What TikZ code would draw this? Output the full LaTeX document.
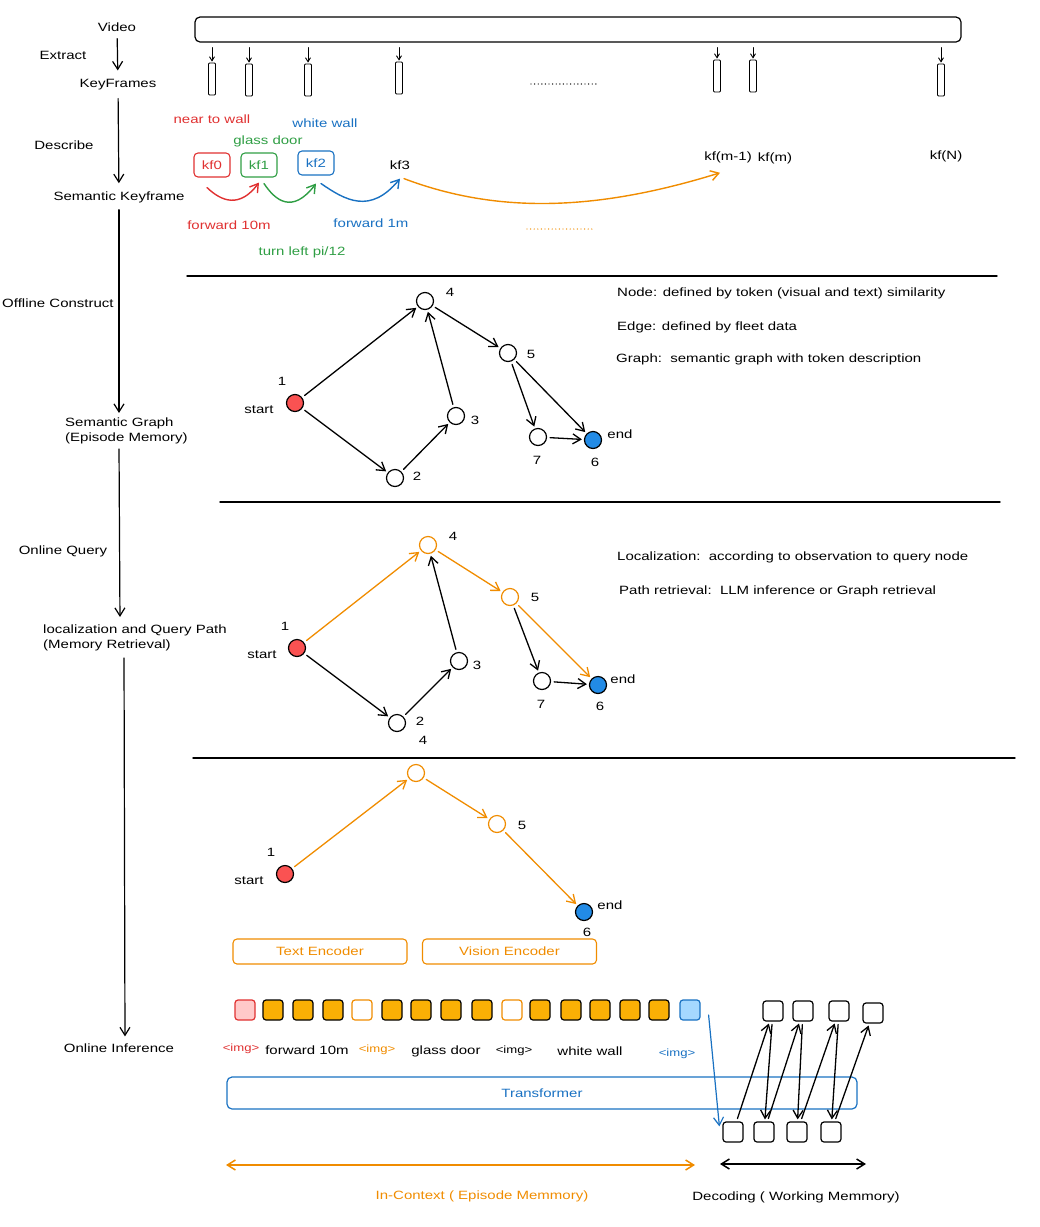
\documentclass[tikz,border=0pt]{standalone}
\usepackage{fontspec}
\setmainfont[FakeStretch=1.25]{Liberation Sans}
\usetikzlibrary{arrows.meta}
\definecolor{exred}{HTML}{E03131}
\definecolor{exgreen}{HTML}{2F9E44}
\definecolor{exblue}{HTML}{1971C2}
\definecolor{exorange}{HTML}{F08C00}
\definecolor{tokfill}{HTML}{FAB005}
\definecolor{tokpink}{HTML}{FFC9C9}
\definecolor{tokblue}{HTML}{A5D8FF}
\definecolor{nodered}{HTML}{FA5252}
\definecolor{nodeblue}{HTML}{228BE6}
\tikzset{
  lbl/.style={font=\fontsize{12}{14.5}\selectfont, inner sep=1pt},
  imglbl/.style={font=\fontsize{10.5}{12}\selectfont, inner sep=1pt},
  kfbar/.style={draw, rounded corners=1pt, minimum width=7pt, minimum height=32pt, inner sep=0pt, line width=0.9pt},
  kfbox/.style={draw, rounded corners=4pt, minimum width=36pt, minimum height=24pt, inner sep=0pt, line width=1.1pt},
  gnode/.style={circle, draw, line width=1.2pt, minimum size=17pt, inner sep=0pt, fill=white},
  tok/.style={draw, rounded corners=3pt, minimum size=20pt, inner sep=0pt, line width=1.2pt},
  tokimg/.style={draw=exred, fill=tokpink},
  tokvis/.style={draw=exorange},
  toktxt/.style={fill=tokfill},
  toklast/.style={draw=exblue, fill=tokblue},
  encbox/.style={draw=exorange, rounded corners=4pt, minimum width=174pt, minimum height=25pt, line width=1.1pt, text=exorange},
  gedge/.style={->, line width=1.3pt, shorten >=2pt, shorten <=3pt},
  flow/.style={->, line width=1.2pt},
  dots/.style={line width=1.4pt, dash pattern=on 0pt off 3.6pt, line cap=round},
}
\begin{document}
\begin{tikzpicture}[x=1pt, y=-1pt, line join=round, line cap=round, >={Straight Barb[length=8pt,width=10pt]}]
\useasboundingbox (0,0) rectangle (1040,1227);
% left column
\node[lbl] (video) at (117,27) {Video};
\node[lbl] at (63,55) {Extract};
\node[lbl] (kfs) at (118,85) {KeyFrames};
\node[lbl] at (64,145) {Describe};
\node[lbl] (semkf) at (119,197) {Semantic Keyframe};
\node[lbl, anchor=west] at (1,303) {Offline Construct};
\node[lbl, align=left, anchor=west] (semg) at (64,431) {Semantic Graph\\(Episode Memory)};
\node[lbl] at (63,551) {Online Query};
\node[lbl, align=left, anchor=west] (query) at (42,638) {localization and Query Path\\(Memory Retrieval)};
\node[lbl] (infer) at (119,1048) {Online Inference};
\draw[flow, shorten <=6pt, shorten >=8pt] (video) -- (kfs);
\draw[flow, shorten <=7pt, shorten >=7pt] (kfs) -- (semkf);
\draw[flow, shorten <=6pt, shorten >=4pt] (semkf) -- (semg.north -| semkf);
\draw[flow, shorten <=4pt, shorten >=7pt] (semg.south -| 119,0) -- (query.north -| 120,0);
\draw[flow, shorten <=6pt, shorten >=6pt] (query.south -| 124,0) -- (infer.north -| 125,0);

% video and keyframes
\node[draw, rounded corners=5pt, line width=1.2pt, minimum width=766pt, minimum height=25pt] (vbar) at (578,29.5) {};
\foreach \x/\y/\n in {212/79/1, 249/80/2, 308/80/3, 399/78/4, 717/76/5, 753/76/6, 941/80/7} {
  \node[kfbar] (f\n) at (\x,\y) {};
  \draw[->, >={Straight Barb[length=4pt,width=5pt]}, line width=0.9pt, shorten <=5pt, shorten >=1pt] (vbar.south -| f\n.north) -- (f\n.north);
}
\draw[dots] (531,84) -- (597,84);

% semantic keyframes
\node[lbl, text=exred] at (212,119) {near to wall};
\node[lbl, text=exblue] at (325,123) {white wall};
\node[lbl, text=exgreen] at (268,141) {glass door};
\node[kfbox, draw=exred, text=exred, lbl] (kf0) at (212,165) {kf0};
\node[kfbox, draw=exgreen, text=exgreen, lbl] (kf1) at (259,165) {kf1};
\node[kfbox, draw=exblue, text=exblue, lbl] (kf2) at (316,163) {kf2};
\node[lbl] (kf3) at (400,165) {kf3};
\node[lbl] (kfm1) at (728,157) {kf(m-1)};
\node[lbl] (kfm) at (775,158) {kf(m)};
\node[lbl] (kfn) at (946,156) {kf(N)};
\draw[->, exred, line width=1.4pt] ([xshift=-5pt,yshift=-10pt]kf0.south) .. controls (222,202) and (240,208) .. ([yshift=-5pt]kf1.south);
\draw[->, exgreen, line width=1.4pt] ([xshift=5pt,yshift=-6pt]kf1.south) .. controls (275,200) and (292,215) .. ([yshift=-8pt]kf2.south);
\draw[->, exblue, line width=1.4pt] ([xshift=5pt,yshift=-8pt]kf2.south) .. controls (345,200) and (370,215) .. ([yshift=-8pt]kf3.south);
\draw[->, exorange, line width=1.4pt] ([xshift=4pt,yshift=-8pt]kf3.south) .. controls (500,215) and (600,210) .. ([xshift=-8pt,yshift=-9pt]kfm1.south);
\node[lbl, text=exred] at (229,225) {forward 10m};
\node[lbl, text=exblue] at (371,223) {forward 1m};
\node[lbl, text=exgreen] at (302,252) {turn left pi/12};
\draw[dots, exorange] (527,229) -- (592,229);

% separators
\draw[line width=1.4pt] (187,276) -- (997,276);
\draw[line width=1.4pt] (220,502) -- (1000,502);
\draw[line width=1.4pt] (193,758) -- (1015,758);

% semantic graph
\node[gnode, fill=nodered] (a1) at (295,403) {};
\node[gnode] (a2) at (395,478) {};
\node[gnode] (a3) at (456,416) {};
\node[gnode] (a4) at (425,301) {};
\node[gnode] (a5) at (508,353) {};
\node[gnode] (a7) at (538,437) {};
\node[gnode, fill=nodeblue] (a6) at (593,440) {};
\node[lbl] at (282,381) {1};
\node[lbl] at (259,410) {start};
\node[lbl] at (417,476) {2};
\node[lbl] at (475,420) {3};
\node[lbl] at (450,292) {4};
\node[lbl] at (531,354) {5};
\node[lbl] at (537,460) {7};
\node[lbl] at (620,434) {end};
\node[lbl] at (595,462) {6};
\draw[gedge] (a1) -- (a4);
\draw[gedge] (a1) -- (a2);
\draw[gedge] (a2) -- (a3);
\draw[gedge] (a3) -- (a4);
\draw[gedge] (a4) -- (a5);
\draw[gedge] (a5) -- (a7);
\draw[gedge] (a5) -- (a6);
\draw[gedge] (a7) -- (a6);
\node[lbl, anchor=west] at (616,293) {Node: defined by token (visual and text) similarity};
\node[lbl, anchor=west] at (616,327) {Edge: defined by fleet data};
\node[lbl, anchor=west] at (615,359) {Graph:\ \ semantic graph with token description};

% query path
\node[gnode, fill=nodered] (b1) at (297,648) {};
\node[gnode] (b2) at (397,723) {};
\node[gnode] (b3) at (459,661) {};
\node[gnode, draw=exorange] (b4) at (428,545) {};
\node[gnode, draw=exorange] (b5) at (510,597) {};
\node[gnode] (b7) at (542,681) {};
\node[gnode, fill=nodeblue] (b6) at (598,685) {};
\node[lbl] at (285,626) {1};
\node[lbl] at (262,655) {start};
\node[lbl] at (420,721) {2};
\node[lbl] at (423,740) {4};
\node[lbl] at (477,665) {3};
\node[lbl] at (453,536) {4};
\node[lbl] at (535,597) {5};
\node[lbl] at (541,704) {7};
\node[lbl] at (623,679) {end};
\node[lbl] at (600,706) {6};
\draw[gedge, exorange] (b1) -- (b4);
\draw[gedge, exorange] (b4) -- (b5);
\draw[gedge, exorange] (b5) -- (b6);
\draw[gedge] (b1) -- (b2);
\draw[gedge] (b2) -- (b3);
\draw[gedge] (b3) -- (b4);
\draw[gedge] (b5) -- (b7);
\draw[gedge] (b7) -- (b6);
\node[lbl, anchor=west] at (616,557) {Localization:\ \ according to observation to query node};
\node[lbl, anchor=west] at (618,591) {Path retrieval:\ \ LLM inference or Graph retrieval};

% retrieved path
\node[gnode, fill=nodered] (c1) at (285,874) {};
\node[gnode, draw=exorange] (c4) at (416,773) {};
\node[gnode, draw=exorange] (c5) at (497,824) {};
\node[gnode, fill=nodeblue] (c6) at (584,912) {};
\node[lbl] at (271,852) {1};
\node[lbl] at (249,881) {start};
\node[lbl] at (522,825) {5};
\node[lbl] at (610,905) {end};
\node[lbl] at (587,932) {6};
\draw[gedge, exorange] (c1) -- (c4);
\draw[gedge, exorange] (c4) -- (c5);
\draw[gedge, exorange] (c5) -- (c6);

% encoders and tokens
\node[encbox, lbl] (tenc) at (320,951.5) {Text Encoder};
\node[encbox, lbl] (venc) at (509.5,951.5) {Vision Encoder};
\foreach \x/\s [count=\i] in {245/tokimg, 273/toktxt, 303/toktxt, 333/toktxt, 362/tokvis, 392/toktxt,
    421/toktxt, 451/toktxt, 482/toktxt, 512/tokvis, 540/toktxt, 571/toktxt, 600/toktxt, 630/toktxt,
    659/toktxt, 690/toklast} {
  \node[tok, \s] (t\i) at (\x,1010) {};
}
\node[imglbl, text=exred] at (241,1049) {<img>};
\node[lbl] at (307,1050) {forward 10m};
\node[imglbl, text=exorange] at (377,1050) {<img>};
\node[lbl] at (446,1051) {glass door};
\node[imglbl] at (514,1051) {<img>};
\node[lbl] at (590,1051) {white wall};
\node[imglbl, text=exblue] at (677,1054) {<img>};
\node[draw=exblue, rounded corners=5pt, line width=1.2pt, minimum width=630pt, minimum height=32pt, lbl, text=exblue] (trans) at (542,1093) {Transformer};

% decoding
\foreach \x/\y [count=\i] in {773/1011, 803/1011, 839/1011, 873/1013} {
  \node[tok] (o\i) at (\x,\y) {};
}
\foreach \x [count=\i] in {733, 764, 797, 831} {
  \node[tok] (d\i) at (\x,1132) {};
}
\draw[->, exblue, line width=1.2pt] ([xshift=8pt,yshift=-5pt]t16.east) -- ([xshift=-3pt,yshift=-5pt]d1.north west);
\draw[gedge] (d1) -- (o1);
\draw[gedge] (o1) -- (d2);
\draw[gedge] (d2) -- (o2);
\draw[gedge] (o2) -- (d3);
\draw[gedge] (d3) -- (o3);
\draw[gedge] (o3) -- (d4);
\draw[gedge] (d4) -- (o4);

% memory spans
\draw[<->, exorange, line width=1.5pt] (226,1165) -- (695,1165);
\node[lbl, text=exorange] at (482,1196) {In-Context ( Episode Memmory)};
\draw[<->, line width=1.5pt] (720,1164) -- (866,1164);
\node[lbl] at (796,1197) {Decoding ( Working Memmory)};
\end{tikzpicture}
\end{document}
